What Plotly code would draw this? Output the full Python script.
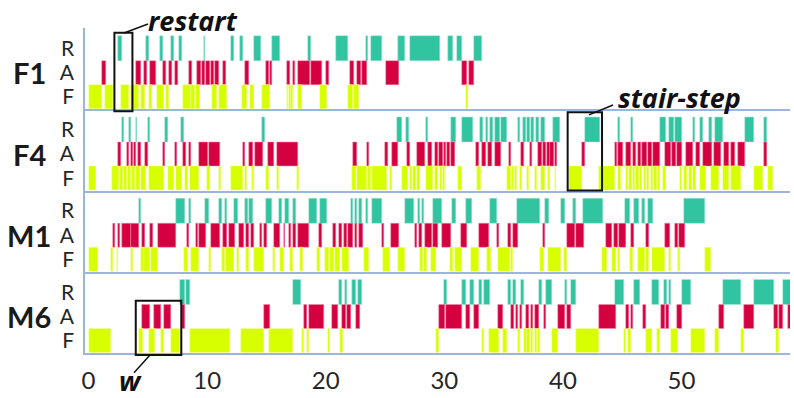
import plotly.graph_objects as go
from plotly.subplots import make_subplots

# ---- activity segments (start, end) per subject and state ----
F1_R = [(2.5, 2.8), (4.88, 5.08), (6.0, 6.3), (6.99, 7.18), (7.6, 7.89), (9.71, 9.85), (12.04, 12.23),
        (12.8, 12.99), (13.92, 14.56), (15.46, 16.16), (18.49, 18.77), (20.88, 21.91), (23.4, 23.6),
        (23.8, 24.72), (26.12, 26.68), (27.1, 29.6), (30.3, 30.75), (31.1, 31.5), (32.5, 33.2)]
F1_A = [(1.15, 1.43), (4.01, 4.43), (4.66, 4.94), (5.16, 5.72), (6.29, 6.57), (6.76, 7.04), (7.32, 7.52),
        (8.45, 8.73), (9.15, 9.48), (9.55, 9.85), (9.92, 10.25), (10.3, 10.55), (10.69, 10.97),
        (11.34, 11.59), (13.2, 13.5), (14.98, 15.2), (15.26, 15.46), (16.72, 16.95), (17.2, 17.42),
        (17.7, 18.69), (18.77, 19.67), (20.03, 20.31), (22.05, 22.39), (22.6, 23.0), (23.05, 23.46),
        (25.08, 26.2), (31.5, 31.95), (32.05, 32.5)]
F1_F = [(0.0, 1.12), (1.4, 2.1), (2.72, 3.45), (3.54, 4.23), (4.38, 4.8), (5.08, 5.36), (5.78, 6.34),
        (6.57, 6.76), (7.97, 8.6), (8.65, 9.0), (9.05, 9.43), (10.41, 10.83), (10.97, 11.67),
        (12.94, 13.36), (13.64, 13.92), (14.62, 15.26), (16.72, 16.85), (16.9, 17.05), (17.1, 17.28),
        (17.7, 17.99), (19.53, 20.09), (21.91, 22.3), (22.35, 22.84), (31.87, 32.0)]

F4_R = [(2.84, 3.03), (3.4, 3.59), (3.96, 4.1), (5.0, 5.16), (6.48, 6.68), (7.83, 8.03), (14.62, 14.9),
        (26.04, 26.4), (26.77, 27.0), (28.42, 28.65), (30.53, 30.98), (31.45, 32.38), (33.0, 33.28),
        (33.5, 33.7), (33.84, 34.12), (34.26, 34.68), (34.76, 35.3), (36.22, 36.42), (36.64, 36.87),
        (37.01, 37.21), (37.35, 37.54), (37.71, 37.99), (38.19, 38.47), (39.17, 39.79), (41.84, 43.16),
        (44.64, 44.84), (45.71, 45.9), (48.21, 48.71), (48.93, 49.35), (49.49, 50.03), (50.95, 51.15),
        (51.57, 51.79), (52.3, 52.58), (52.86, 53.48), (55.39, 56.15), (56.99, 57.18)]
F4_A = [(2.5, 2.75), (3.2, 3.4), (3.54, 3.76), (3.82, 4.04), (4.18, 4.43), (4.8, 5.02), (6.29, 6.48),
        (7.27, 7.47), (7.97, 8.22), (8.45, 8.64), (9.29, 10.04), (10.19, 11.11), (12.99, 13.22),
        (13.5, 13.86), (14.06, 14.68), (15.1, 15.66), (15.88, 17.62), (22.33, 22.67), (23.46, 23.65),
        (25.0, 25.28), (25.56, 26.07), (26.88, 27.1), (27.67, 28.37), (28.65, 28.93), (29.21, 29.49),
        (29.57, 29.85), (29.97, 30.13), (30.25, 30.47), (30.56, 30.89), (32.66, 32.91), (33.19, 33.5),
        (33.7, 33.98), (34.26, 34.76), (35.47, 35.66), (36.5, 36.73), (37.21, 37.43), (37.9, 38.25),
        (38.3, 38.6), (38.65, 38.9), (38.95, 39.23), (39.31, 39.53), (41.64, 41.84), (44.36, 44.6),
        (44.65, 45.06), (45.34, 45.71), (45.9, 46.2), (46.3, 46.6), (46.7, 47.1), (47.2, 47.5),
        (47.6, 48.15), (48.65, 49.1), (49.2, 49.5), (49.6, 50.06), (50.39, 50.95), (51.24, 51.57),
        (51.8, 52.58), (52.78, 53.34), (53.62, 53.99), (54.18, 54.55), (54.74, 55.39), (56.99, 57.18)]
F4_F = [(0.0, 0.59), (1.94, 2.55), (2.64, 2.92), (2.97, 3.26), (3.34, 3.59), (3.68, 3.9), (4.04, 4.32),
        (4.43, 4.85), (5.13, 6.34), (6.68, 7.24), (7.38, 7.89), (8.11, 8.39), (8.53, 9.34), (9.99, 10.27),
        (11.03, 11.17), (12.01, 13.02), (13.16, 13.36), (13.78, 13.97), (14.96, 15.18), (15.88, 16.08),
        (17.57, 17.76), (22.2, 22.53), (22.67, 23.5), (23.6, 23.8), (23.9, 25.14), (25.42, 25.62),
        (26.41, 26.96), (27.1, 27.3), (27.4, 27.6), (27.7, 27.95), (28.45, 29.07), (29.21, 29.5),
        (29.6, 29.8), (29.9, 30.05), (31.18, 31.51), (32.72, 33.06), (35.3, 35.6), (35.7, 35.9),
        (36.0, 36.14), (36.37, 36.59), (36.93, 37.15), (37.63, 37.82), (38.19, 38.47), (38.75, 38.95),
        (39.31, 39.45), (40.52, 41.64), (43.04, 44.36), (44.64, 44.92), (45.29, 45.5), (45.6, 45.8),
        (45.9, 46.1), (46.2, 46.4), (46.5, 46.7), (46.8, 47.0), (47.1, 47.3), (47.4, 47.6), (47.7, 47.9),
        (48.0, 48.15), (48.43, 48.71), (49.89, 50.06), (50.25, 50.5), (50.6, 50.9), (51.0, 51.24),
        (51.52, 52.08), (52.5, 53.2), (53.48, 54.04), (54.18, 55.02), (56.15, 56.85), (57.27, 57.75)]

M1_R = [(4.24, 4.43), (7.38, 8.17), (8.45, 8.64), (9.85, 10.13), (11.03, 11.25), (11.53, 11.67),
        (12.29, 12.57), (13.22, 13.44), (13.55, 13.83), (14.98, 15.46), (16.08, 16.3), (16.58, 16.92),
        (17.28, 17.51), (18.55, 19.3), (19.53, 20.09), (22.11, 22.33), (22.47, 22.67), (22.84, 23.04),
        (23.4, 23.6), (23.88, 24.72), (26.68, 27.47), (27.75, 27.95), (28.09, 28.28), (29.07, 29.83),
        (30.61, 30.98), (31.82, 32.3), (33.84, 34.4), (36.14, 38.05), (38.47, 38.81), (39.87, 40.15),
        (40.85, 41.13), (41.7, 43.38), (45.26, 45.62), (45.96, 46.38), (46.66, 46.89), (47.17, 47.59),
        (50.25, 52.02)]
M1_A = [(2.05, 2.27), (2.47, 2.69), (2.78, 3.54), (3.62, 4.24), (4.52, 4.74), (5.22, 5.44), (5.84, 7.38),
        (8.31, 8.5), (9.06, 9.2), (9.34, 9.93), (10.33, 11.11), (11.34, 11.67), (11.81, 12.37),
        (12.65, 13.13), (13.27, 13.5), (13.69, 13.97), (14.42, 14.62), (14.82, 15.04), (15.6, 16.16),
        (16.44, 16.58), (16.86, 17.06), (17.28, 17.51), (17.62, 18.57), (19.47, 19.67), (20.65, 20.85),
        (21.16, 21.41), (21.55, 21.77), (21.91, 22.28), (22.47, 22.62), (22.84, 23.12), (24.72, 24.94),
        (25.48, 26.18), (27.53, 27.72), (27.89, 28.09), (28.37, 28.95), (29.05, 29.5), (29.77, 30.53),
        (31.4, 31.88), (32.91, 33.76), (34.4, 34.6), (35.38, 35.61), (35.75, 36.23), (38.33, 38.53),
        (40.35, 40.99), (41.08, 41.78), (43.66, 44.17), (44.31, 44.64), (44.73, 45.35), (45.77, 45.96),
        (47.03, 47.22), (48.57, 48.99), (49.41, 49.69), (49.83, 50.31)]
M1_F = [(0.0, 0.79), (1.91, 2.08), (2.36, 2.5), (3.54, 3.73), (4.38, 4.66), (4.71, 5.22), (5.3, 5.86),
        (8.08, 8.39), (8.64, 9.29), (10.13, 10.35), (11.25, 11.48), (11.59, 12.23), (12.51, 12.71),
        (13.27, 13.5), (13.97, 14.76), (15.52, 15.74), (16.11, 16.44), (16.95, 17.28), (17.85, 18.07),
        (19.3, 19.53), (19.95, 20.3), (20.4, 20.7), (20.8, 21.21), (21.35, 22.0), (23.26, 23.68),
        (24.8, 25.42), (26.12, 26.68), (27.95, 28.2), (28.3, 28.51), (28.9, 29.3), (30.47, 30.7),
        (30.89, 31.45), (32.21, 32.94), (33.64, 33.9), (34.54, 35.52), (35.61, 35.8), (38.05, 38.39),
        (38.75, 39.87), (40.1, 40.35), (43.32, 43.75), (44.14, 44.5), (44.64, 44.78), (45.62, 45.9),
        (46.33, 46.89), (47.03, 47.25), (47.53, 48.57), (48.94, 49.13), (49.69, 49.89), (51.94, 52.5)]

M6_R = [(7.74, 8.1), (8.2, 8.59), (17.23, 17.9), (21.13, 21.41), (21.63, 21.83), (22.19, 22.53),
        (22.76, 23.04), (29.97, 30.19), (31.46, 31.82), (32.16, 32.52), (32.94, 33.2), (33.34, 33.84),
        (35.33, 35.61), (35.8, 36.03), (36.5, 36.73), (37.99, 38.22), (38.55, 39.12), (40.15, 40.38),
        (40.66, 41.14), (44.42, 45.15), (45.99, 46.47), (47.5, 48.07), (48.52, 48.77), (48.94, 49.13),
        (50.06, 50.76), (53.54, 55.02), (56.15, 57.83), (58.59, 59.4)]
M6_A = [(4.52, 5.14), (5.56, 6.15), (6.34, 6.99), (7.88, 8.17), (14.76, 15.26), (18.13, 18.41),
        (18.55, 19.89), (20.51, 21.07), (21.41, 21.69), (21.77, 22.11), (22.53, 22.9), (29.55, 30.05),
        (30.14, 31.46), (31.79, 32.16), (32.52, 32.94), (34.54, 34.91), (35.66, 35.89), (36.03, 36.23),
        (36.37, 36.56), (36.87, 37.12), (37.29, 37.49), (37.68, 37.96), (38.39, 38.61), (39.59, 40.15),
        (40.38, 40.66), (43.02, 44.45), (45.35, 45.54), (45.71, 45.9), (46.75, 46.97), (48.29, 48.57),
        (48.71, 48.94), (49.64, 50.03), (53.2, 53.57), (55.25, 56.15), (57.77, 58.11), (58.2, 58.59),
        (58.95, 59.4)]
M6_F = [(0.0, 1.91), (4.24, 4.6), (5.08, 5.64), (6.15, 6.34), (6.96, 7.69), (8.59, 11.95), (12.85, 14.76),
        (15.24, 17.23), (17.99, 18.18), (18.41, 18.63), (20.23, 20.37), (21.21, 21.49), (29.3, 29.58),
        (33.14, 33.36), (33.78, 34.6), (34.96, 35.3), (36.23, 36.37), (36.7, 36.93), (37.01, 37.21),
        (37.35, 37.49), (37.63, 37.82), (37.91, 38.05), (39.12, 39.59), (41.14, 43.02), (45.12, 45.29),
        (45.48, 45.77), (46.97, 47.53), (47.95, 48.15), (49.13, 49.69), (50.76, 51.94), (52.86, 53.2),
        (55.02, 55.3), (57.97, 58.2)]

PANEL_NAMES = ["F1", "F4", "M1", "M6"]
STATES = ["R", "A", "F"]
STATE_ROW = {"F": 0, "A": 1, "R": 2}
X_TICKS = [0, 10, 20, 30, 40, 50]

SEGMENTS = {
    "F1": {"R": F1_R, "A": F1_A, "F": F1_F},
    "F4": {"R": F4_R, "A": F4_A, "F": F4_F},
    "M1": {"R": M1_R, "A": M1_A, "F": M1_F},
    "M6": {"R": M6_R, "A": M6_A, "F": M6_F},
}

COLORS = {"R": "#30C4A0", "A": "#D5003F", "F": "#D7FF00"}
EDGE = {"R": "#A8E6D6", "A": "#F08AA8", "F": "#F0FF9A"}
AXIS_COLOR = "#9DB5DE"
FONT = "Lato"
CALLOUT_FONT = "Open Sans"

W, H = 794, 398
L, R, T, B = 85, 4, 28, 41
PW, PH = W - L - R, H - T - B
X_RANGE = [-0.3, 59.15]
Y_RANGE = [-0.5, 2.85]

fig = make_subplots(rows=4, cols=1, shared_xaxes=True, vertical_spacing=0)

for i, name in enumerate(PANEL_NAMES):
    for state in STATES:
        segs = SEGMENTS[name][state]
        fig.add_trace(
            go.Bar(
                orientation="h",
                base=[s for s, e in segs],
                x=[e - s for s, e in segs],
                y=[STATE_ROW[state]] * len(segs),
                width=1,
                marker=dict(color=COLORS[state], line=dict(color=EDGE[state], width=0.5)),
                showlegend=False,
                hoverinfo="skip",
            ),
            row=i + 1, col=1,
        )
    fig.update_yaxes(
        row=i + 1, col=1,
        range=Y_RANGE, tickvals=[0, 1, 2], ticktext=["F", "A", "R"],
        showline=True, linecolor=AXIS_COLOR, linewidth=1.5,
        showgrid=False, zeroline=False, ticks="", ticklabelstandoff=5,
        tickfont=dict(family=FONT, size=21, color="#262626"),
    )
    fig.update_xaxes(
        row=i + 1, col=1,
        range=X_RANGE, showline=True, linecolor=AXIS_COLOR, linewidth=1.5,
        showgrid=False, zeroline=False, ticks="",
        tickvals=X_TICKS, ticktext=[str(v) for v in X_TICKS],
        tickfont=dict(family=FONT, size=24, color="#262626"),
        ticklabelstandoff=5,
    )
    fig.add_annotation(
        text="<b>%s</b>" % name, xref="paper", yref="y%d" % (i + 1) if i else "y",
        x=(29 - L) / PW, y=1, xanchor="center", yanchor="middle", showarrow=False,
        font=dict(family=FONT, size=29, color="#1a1a1a"),
    )


def panel_y(panel, yval):
    """Map a value on a panel's y axis to paper coordinates."""
    dom = (3 - panel) / 4.0, (4 - panel) / 4.0
    frac = (yval - Y_RANGE[0]) / (Y_RANGE[1] - Y_RANGE[0])
    return dom[0] + frac * (dom[1] - dom[0])


def px_x(px):
    return (px - L) / PW


def px_y(py):
    return 1 - (py - T) / PH


# callout boxes: (panel, x0, x1, y_bottom, y_top)
BOXES = [(0, 2.18, 3.7, -0.58, 2.65), (1, 40.4, 43.3, -0.5, 2.73), (3, 3.98, 7.82, -0.58, 1.65)]
xrefs = ["x", "x2", "x3", "x4"]
for p, x0, x1, yb, yt in BOXES:
    fig.add_shape(type="rect", xref=xrefs[p], yref="paper", x0=x0, x1=x1,
                  y0=panel_y(p, yb), y1=panel_y(p, yt),
                  line=dict(color="#111111", width=2), fillcolor="rgba(0,0,0,0)")

# leader lines and labels (pixel positions)
LEADERS = [((124, 33), (148, 24)), ((589, 116), (613, 106)), ((150, 359), (134, 377))]
for (ax, ay), (bx, by) in LEADERS:
    fig.add_shape(type="line", xref="paper", yref="paper",
                  x0=px_x(ax), y0=px_y(ay), x1=px_x(bx), y1=px_y(by),
                  line=dict(color="#111111", width=1.5))

LABELS = [("restart", 146, 20, "left"), ("stair-step", 616, 98, "left"), ("w", 130, 385, "center")]
for txt, x, y, anchor in LABELS:
    fig.add_annotation(text="<b><i>%s</i></b>" % txt, xref="paper", yref="paper",
                       x=px_x(x), y=px_y(y), xanchor=anchor, yanchor="middle", showarrow=False,
                       font=dict(family=CALLOUT_FONT, size=27, color="#111111"))

fig.update_layout(
    width=W, height=H, barmode="overlay", bargap=0,
    margin=dict(l=L, r=R, t=T, b=B),
    paper_bgcolor="white", plot_bgcolor="white",
)

fig.write_html("out.html")
